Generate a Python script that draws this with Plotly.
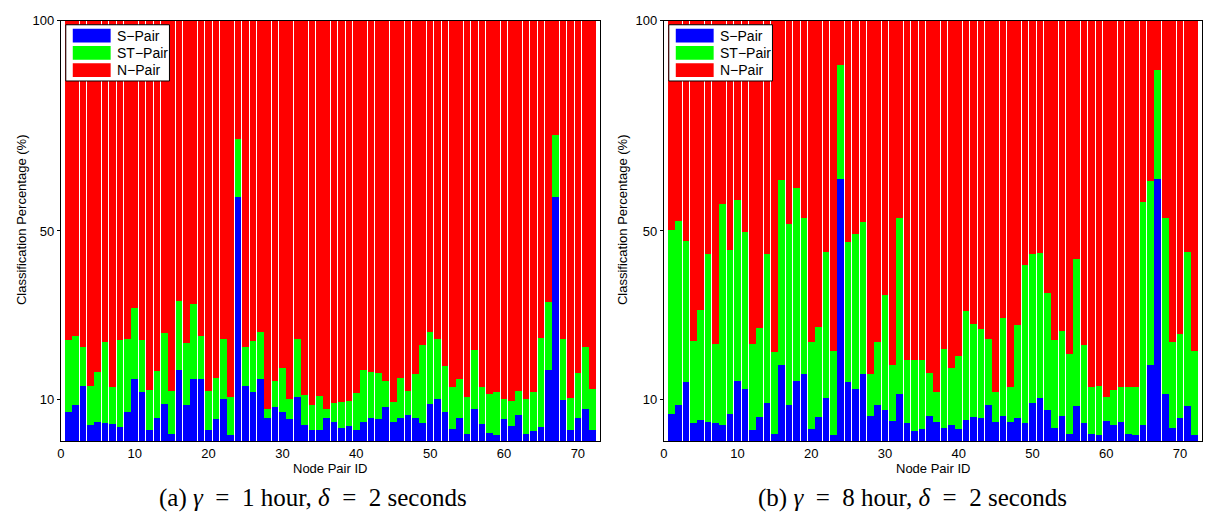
import plotly.graph_objects as go

# Node pair identifiers (1..72)
node_ids = list(range(1, 73))

# Panel (a): gamma = 1 hour, delta = 2 seconds -- class shares in percent
s_pair_a = [6.8, 8.5, 13.1, 3.9, 4.5, 4.2, 4.1, 3.4, 6.8, 14.7,
            11.7, 2.6, 5.6, 8.9, 1.8, 16.9, 8.5, 14.7, 14.8, 2.7,
            5.3, 9.9, 1.4, 58.0, 13.0, 11.7, 14.8, 5.6, 8.2, 6.8,
            5.2, 10.6, 3.9, 2.6, 2.7, 5.6, 4.5, 3.0, 3.6, 2.6,
            4.5, 5.6, 5.3, 8.2, 4.5, 5.5, 6.2, 5.6, 4.3, 8.9,
            9.9, 6.8, 2.9, 5.4, 1.6, 7.7, 4.1, 1.9, 1.4, 5.2,
            3.6, 6.1, 1.6, 2.5, 3.4, 16.9, 58.0, 9.8, 2.7, 5.4,
            7.7, 2.6]
st_pair_a = [17.3, 16.5, 9.2, 9.2, 11.9, 19.3, 8.7, 20.7, 17.6, 17.0,
             12.4, 9.5, 11.0, 16.9, 10.2, 16.5, 14.9, 17.9, 10.2, 9.3,
             9.6, 14.3, 9.1, 13.9, 9.3, 12.0, 11.2, 2.1, 6.1, 10.6,
             4.7, 13.7, 7.1, 6.0, 8.0, 2.0, 4.5, 6.2, 5.9, 8.8,
             12.3, 10.8, 10.9, 6.1, 4.7, 9.4, 5.8, 10.3, 18.5, 17.1,
             14.4, 11.1, 9.9, 9.4, 8.9, 13.9, 8.8, 9.2, 10.2, 4.7,
             5.9, 5.8, 8.4, 9.2, 21.2, 16.2, 14.8, 14.4, 7.6, 10.7,
             14.7, 9.8]

# Panel (b): gamma = 8 hour, delta = 2 seconds
s_pair_b = [6.5, 8.5, 14.1, 4.3, 4.9, 4.5, 4.2, 3.8, 6.4, 14.2,
            12.5, 2.6, 5.7, 9.0, 1.6, 18.1, 8.5, 14.2, 16.0, 2.9,
            5.7, 10.3, 1.4, 62.4, 14.0, 12.4, 16.0, 5.9, 8.5, 7.4,
            4.7, 11.3, 4.2, 2.5, 2.9, 5.9, 4.6, 3.1, 3.8, 2.9,
            4.9, 5.8, 5.6, 8.5, 4.6, 5.9, 4.5, 5.4, 4.4, 9.0,
            10.3, 7.5, 3.1, 5.9, 1.7, 8.4, 4.2, 1.6, 1.4, 4.8,
            3.8, 4.5, 1.7, 1.4, 3.8, 18.1, 62.4, 11.3, 3.0, 5.5,
            8.4, 1.4]
st_pair_b = [43.8, 43.9, 33.6, 19.6, 26.3, 39.9, 18.8, 52.5, 39.0, 43.2,
             37.2, 20.6, 21.3, 35.4, 19.5, 44.0, 43.1, 45.9, 37.1, 20.6,
             21.5, 34.7, 20.0, 27.0, 33.4, 36.8, 36.2, 10.1, 15.1, 27.3,
             13.3, 41.7, 15.2, 16.9, 16.5, 10.2, 7.1, 18.8, 13.5, 17.4,
             26.1, 22.1, 21.0, 15.8, 7.1, 23.3, 8.3, 22.1, 37.5, 35.5,
             34.4, 27.7, 21.0, 20.2, 19.0, 34.9, 18.6, 11.2, 11.7, 5.8,
             8.3, 8.3, 11.2, 11.5, 53.1, 43.8, 25.9, 41.8, 20.6, 19.9,
             36.5, 20.0]

# N-Pair is the remainder of each bar up to 100 %
n_pair_a = [round(100 - s - st, 1) for s, st in zip(s_pair_a, st_pair_a)]
n_pair_b = [round(100 - s - st, 1) for s, st in zip(s_pair_b, st_pair_b)]

class_names = ["S\u2212Pair", "ST\u2212Pair", "N\u2212Pair"]
class_colors = ["#0000FF", "#00FF00", "#FF0000"]

y_ticks = [10, 50, 100]
x_ticks = [0, 10, 20, 30, 40, 50, 60, 70]

W, H = 1215, 519


def px(x):
    return x / W


def py(y):
    return 1 - y / H


fig = go.Figure()

panels = [
    ("x", "y", [s_pair_a, st_pair_a, n_pair_a]),
    ("x2", "y2", [s_pair_b, st_pair_b, n_pair_b]),
]
for xa, ya, series in panels:
    for name, color, vals in zip(class_names, class_colors, series):
        fig.add_trace(go.Bar(
            x=node_ids, y=vals, name=name, xaxis=xa, yaxis=ya,
            marker=dict(color=color, line=dict(width=0)),
            showlegend=False,
        ))

tick_font = dict(family="Liberation Sans, Arial, sans-serif", size=13, color="black")
axis_common = dict(showline=True, linecolor="black", linewidth=1, mirror=True,
                   showgrid=False, zeroline=False, tickfont=tick_font)
x_axis_style = dict(ticks="", **axis_common)
y_axis_style = dict(ticks="outside", ticklen=3, tickcolor="black", **axis_common)

y_dom = [py(440), py(14)]
fig.update_layout(
    width=W, height=H,
    margin=dict(l=0, r=0, t=0, b=0),
    paper_bgcolor="white", plot_bgcolor="white",
    barmode="stack", bargap=0.1,
    xaxis=dict(domain=[px(57), px(598)], range=[0, 73], tickvals=x_ticks,
               anchor="y", **x_axis_style),
    yaxis=dict(domain=y_dom, range=[0, 100], tickvals=y_ticks,
               anchor="x", **y_axis_style),
    xaxis2=dict(domain=[px(662), px(1202)], range=[0, 73], tickvals=x_ticks,
                anchor="y2", **x_axis_style),
    yaxis2=dict(domain=y_dom, range=[0, 100], tickvals=y_ticks,
                anchor="x2", **y_axis_style),
)

label_font = dict(family="Liberation Sans, Arial, sans-serif", size=13, color="black")
caption_font = dict(family="Liberation Serif, serif", size=25, color="black")

# math-style spacing around the equals signs
sp = "\u2002"
captions = [
    f"(a) <i>\u03b3</i>{sp}={sp}1 hour, <i>\u03b4</i>{sp}={sp}2 seconds",
    f"(b) <i>\u03b3</i>{sp}={sp}8 hour, <i>\u03b4</i>{sp}={sp}2 seconds",
]

annotations = []
shapes = []
for left, right, ylab_x, cap_x, cap in [(57, 598, 17, 310, captions[0]),
                                        (662, 1202, 620, 912, captions[1])]:
    cx = (left + right) / 2
    annotations.append(dict(text="Node Pair ID", x=px(cx), y=py(468), xref="paper", yref="paper",
                            showarrow=False, font=label_font, xanchor="center", yanchor="middle"))
    annotations.append(dict(text="Classification Percentage (%)", x=px(ylab_x), y=py(215),
                            xref="paper", yref="paper", showarrow=False, textangle=-90,
                            font=label_font, xanchor="center", yanchor="middle"))
    annotations.append(dict(text=cap, x=px(cap_x), y=py(498), xref="paper", yref="paper",
                            showarrow=False, font=caption_font, xanchor="center", yanchor="middle"))

    # legend box with wide colour swatches
    bx0 = left + 5
    shapes.append(dict(type="rect", xref="paper", yref="paper",
                       x0=px(bx0), x1=px(bx0 + 104), y0=py(18), y1=py(75),
                       fillcolor="white", line=dict(color="black", width=1)))
    for k, (name, color) in enumerate(zip(class_names, class_colors)):
        top = 22 + k * 17.5
        shapes.append(dict(type="rect", xref="paper", yref="paper",
                           x0=px(bx0 + 7), x1=px(bx0 + 45), y0=py(top), y1=py(top + 14),
                           fillcolor=color, line=dict(width=0)))
        annotations.append(dict(text=name, x=px(bx0 + 49), y=py(top + 7), xref="paper", yref="paper",
                                showarrow=False, xanchor="left", yanchor="middle",
                                font=dict(family="Liberation Sans, Arial, sans-serif", size=14,
                                          color="black")))

fig.update_layout(annotations=annotations, shapes=shapes)
fig.write_html("out.html")
